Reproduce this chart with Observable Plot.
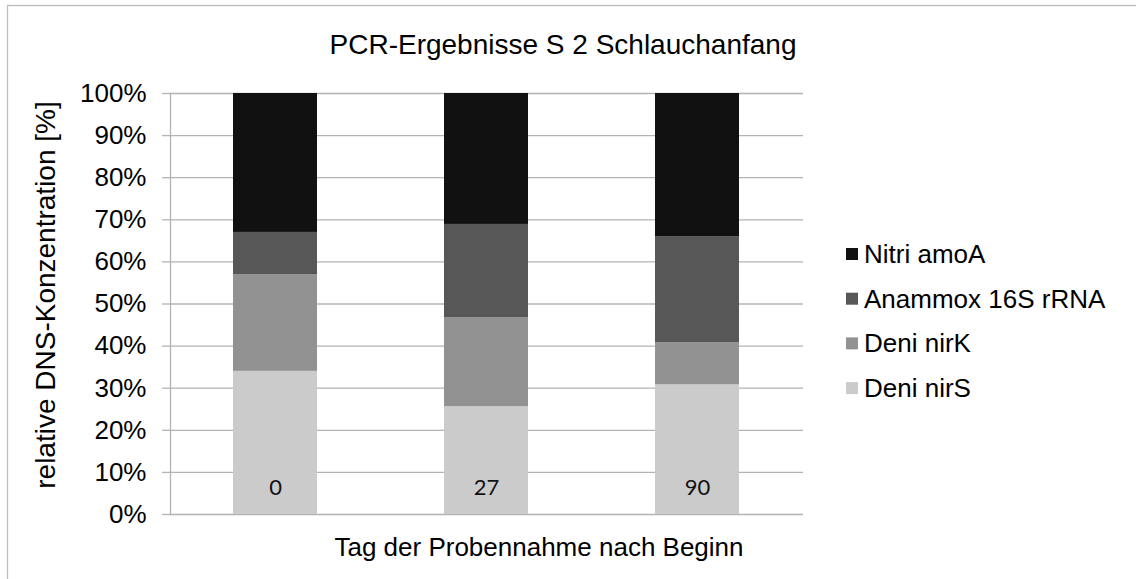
<!DOCTYPE html>
<html>
<head>
<meta charset="utf-8">
<script src="https://cdn.jsdelivr.net/npm/d3@7"></script>
<script src="https://cdn.jsdelivr.net/npm/@observablehq/plot@0.6"></script>
<style>
  html, body { margin: 0; padding: 0; background: #fff; }
  #chart { position: relative; width: 1136px; height: 579px; overflow: hidden; }
</style>
</head>
<body>
<div id="chart"></div>
<script>
// ---- data ----
const days = ["0", "27", "90"];
const series = ["Deni nirS", "Deni nirK", "Anammox 16S rRNA", "Nitri amoA"];
const deniNirS = [34, 25.6, 30.8];
const deniNirK = [23, 21.1, 10];
const anammox16S = [10, 22.2, 25.2];
const nitriAmoA = [33, 31.1, 34];
const seriesColors = ["#cbcbcb", "#929292", "#575757", "#111111"];
const yTicks = [0, 10, 20, 30, 40, 50, 60, 70, 80, 90, 100];
const titleText = "PCR-Ergebnisse S 2 Schlauchanfang";
const xTitle = "Tag der Probennahme nach Beginn";
const yTitle = "relative DNS-Konzentration [%]";

const valuesBySeries = [deniNirS, deniNirK, anammox16S, nitriAmoA];
const data = [];
days.forEach((d, i) => {
  series.forEach((s, j) => data.push({day: d, series: s, value: valuesBySeries[j][i]}));
});

const font = "'Liberation Sans', Arial, sans-serif";
const gridColor = "#b3b3b3";

const chart = Plot.plot({
  width: 1136,
  height: 579,
  marginLeft: 170,
  marginRight: 333,
  marginTop: 93,
  marginBottom: 65,
  style: {fontFamily: font, fontSize: "26px", background: "white", color: "#000", overflow: "visible"},
  x: {domain: days, paddingInner: 0.6, paddingOuter: 0.3, label: null},
  y: {domain: [0, 100], label: null},
  color: {domain: series, range: seriesColors},
  marks: [
    Plot.gridY(yTicks, {stroke: gridColor, strokeOpacity: 1, strokeWidth: 1.3}),
    Plot.axisY(yTicks, {tickFormat: d => d + "%", tickSize: 8, tickPadding: 16, stroke: gridColor, strokeWidth: 1.3, fill: "#000", fontSize: 26, fontFamily: font, label: null}),
    Plot.frame({anchor: "left", stroke: gridColor, strokeWidth: 1.3}),
    Plot.barY(data, {x: "day", y: "value", fill: "series", order: series}),
    Plot.axisX({tickSize: 0, dy: -44, fontFamily: "Lato, 'Open Sans', sans-serif", fontSize: 22, fill: "#111", label: null})
  ]
});

document.getElementById("chart").appendChild(chart);

const svg = d3.select(chart);
// outer chart-area border (top and left visible)
svg.append("rect")
  .attr("x", 7.5).attr("y", 5.5).attr("width", 1200).attr("height", 700)
  .attr("fill", "none").attr("stroke", "#bdbdbd").attr("stroke-width", 1.3);

// title
svg.append("text")
  .attr("x", 563).attr("y", 54)
  .attr("text-anchor", "middle")
  .attr("font-family", font).attr("font-size", 28).attr("fill", "#000")
  .text(titleText);

// x axis title
svg.append("text")
  .attr("x", 539).attr("y", 556)
  .attr("text-anchor", "middle")
  .attr("font-family", font).attr("font-size", 26).attr("fill", "#000")
  .text(xTitle);

// y axis title
svg.append("text")
  .attr("transform", "translate(55,295) rotate(-90)")
  .attr("text-anchor", "middle")
  .attr("font-family", font).attr("font-size", 28).attr("fill", "#000")
  .text(yTitle);

// legend
const color = chart.scale("color");
const legendItems = series.slice().reverse();
const lg = svg.append("g").attr("text-anchor", "start");
legendItems.forEach((s, i) => {
  const cy = 254 + i * 44.7;
  const c = color.range[color.domain.indexOf(s)];
  lg.append("rect").attr("x", 846).attr("y", cy - 6).attr("width", 12).attr("height", 12).attr("fill", c);
  lg.append("text").attr("x", 864).attr("y", cy + 9)
    .attr("text-anchor", "start")
    .attr("font-family", font).attr("font-size", 26).attr("fill", "#000").text(s);
});
</script>
</body>
</html>
